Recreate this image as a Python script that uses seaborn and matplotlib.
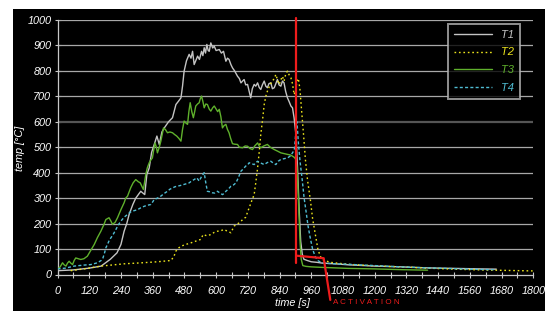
import matplotlib
matplotlib.use("Agg")
import matplotlib.pyplot as plt
from matplotlib.patches import Rectangle
from matplotlib.lines import Line2D
import seaborn as sns
import pandas as pd

# --- data (time [s], temp [°C]) ---
t1_time = [0, 60, 120, 165, 200, 225, 240, 252, 262, 271, 285, 296, 315, 330, 338, 347, 356, 366, 376, 385,
           395, 404, 420, 435, 448, 457, 467, 473, 479, 488, 498, 505, 511, 517, 523, 530, 537, 545, 550, 555,
           560, 565, 570, 574, 580, 587, 593, 600, 612, 620, 628, 637, 643, 649, 656, 662, 670, 681, 688, 694,
           700, 706, 712, 719, 725, 731, 737, 744, 750, 757, 763, 769, 775, 782, 788, 794, 800, 807, 813, 820,
           826, 832, 838, 845, 851, 857, 863, 870, 876, 883, 889, 895, 902, 908, 914, 920, 926, 932, 945, 960,
           980, 1000, 1050, 1100, 1200, 1300, 1400, 1500, 1600, 1660]
t1_temp = [15, 18, 25, 33, 60, 85, 118, 170, 200, 236, 275, 300, 327, 314, 393, 419, 480, 511, 544, 511,
           560, 576, 600, 616, 668, 680, 694, 740, 799, 840, 865, 850, 877, 825, 840, 858, 845, 877, 860, 891,
           870, 904, 880, 877, 910, 890, 897, 880, 884, 870, 877, 838, 850, 845, 825, 812, 800, 779, 770, 753,
           760, 766, 745, 747, 720, 694, 730, 747, 740, 753, 735, 727, 745, 760, 740, 734, 750, 753, 730, 734,
           750, 766, 745, 740, 760, 753, 720, 694, 680, 662, 655, 616, 550, 420, 260, 130, 80, 60, 55, 50,
           48, 45, 42, 38, 33, 30, 26, 24, 22, 21]

t2_time = [50, 100, 164, 252, 320, 378, 429, 440, 448, 458, 467, 485, 504, 520, 542, 551, 565, 580, 592, 605,
           618, 630, 643, 656, 668, 687, 700, 712, 725, 735, 744, 750, 757, 763, 769, 776, 782, 788, 794, 800,
           807, 813, 820, 826, 832, 839, 845, 851, 857, 864, 870, 876, 883, 889, 895, 900, 906, 911, 917, 923,
           930, 938, 946, 957, 965, 975, 985, 993, 1000, 1030, 1100, 1200, 1300, 1400, 1500, 1600, 1700, 1800]
t2_temp = [15, 22, 33, 42, 46, 50, 55, 70, 92, 104, 111, 118, 124, 130, 138, 157, 152, 157, 165, 170,
           172, 177, 170, 164, 190, 203, 215, 225, 262, 290, 314, 360, 419, 480, 550, 610, 668, 700, 720, 735,
           750, 760, 770, 786, 765, 747, 765, 779, 760, 790, 799, 785, 773, 750, 707, 720, 760, 770, 730, 650,
           560, 450, 370, 290, 220, 160, 100, 75, 60, 48, 40, 34, 30, 25, 21, 18, 16, 14]

t3_time = [0, 10, 19, 25, 32, 38, 44, 50, 57, 63, 69, 78, 88, 100, 113, 126, 139, 151, 164, 175,
           183, 195, 202, 208, 218, 227, 240, 252, 258, 265, 271, 277, 286, 296, 305, 313, 320, 325, 334, 340,
           347, 353, 359, 364, 369, 374, 378, 385, 391, 396, 401, 408, 416, 425, 435, 443, 451, 459, 467, 473,
           479, 486, 492, 497, 502, 508, 514, 519, 523, 530, 536, 540, 545, 550, 555, 561, 567, 574, 580, 587,
           593, 600, 606, 612, 618, 624, 630, 637, 643, 649, 655, 662, 670, 681, 688, 700, 710, 719, 728, 738,
           746, 757, 763, 769, 780, 794, 805, 820, 832, 845, 857, 870, 880, 889, 896, 902, 906, 910, 914, 918,
           922, 928, 940, 960, 1000, 1050, 1100, 1200, 1300, 1400]
t3_temp = [20, 30, 46, 38, 33, 45, 52, 45, 39, 55, 65, 62, 59, 62, 72, 95, 118, 145, 170, 195,
           216, 223, 210, 197, 205, 223, 255, 282, 300, 308, 325, 341, 360, 373, 365, 360, 345, 334, 393, 420,
           439, 450, 458, 490, 517, 500, 478, 500, 524, 550, 576, 570, 557, 560, 557, 550, 544, 535, 524, 570,
           603, 595, 590, 640, 675, 640, 616, 640, 662, 670, 675, 690, 701, 680, 655, 670, 668, 650, 642, 655,
           662, 650, 640, 649, 620, 576, 585, 590, 570, 557, 535, 514, 512, 511, 500, 498, 505, 504, 495, 491,
           505, 517, 505, 498, 505, 511, 500, 491, 485, 478, 475, 472, 470, 465, 460, 452, 420, 330, 220, 120,
           60, 35, 32, 30, 28, 26, 24, 22, 19, 17]

t4_time = [0, 30, 63, 100, 126, 151, 165, 172, 178, 183, 190, 196, 202, 212, 221, 230, 240, 252, 265, 275,
           284, 294, 303, 315, 328, 340, 353, 360, 366, 378, 391, 403, 416, 425, 435, 445, 454, 466, 479, 489,
           498, 508, 517, 527, 536, 545, 555, 561, 567, 576, 586, 595, 605, 615, 624, 630, 637, 646, 656, 666,
           675, 684, 694, 703, 712, 719, 725, 735, 744, 750, 757, 769, 782, 794, 807, 816, 826, 835, 845, 857,
           870, 880, 889, 896, 902, 906, 911, 918, 925, 933, 940, 948, 955, 965, 975, 985, 1000, 1050, 1100, 1200,
           1300, 1400, 1500, 1600, 1650]
t4_temp = [22, 25, 33, 37, 39, 46, 55, 65, 85, 105, 120, 135, 144, 160, 177, 195, 210, 225, 236, 245,
           249, 252, 255, 262, 268, 272, 275, 285, 295, 300, 308, 318, 327, 335, 340, 345, 347, 350, 354, 357,
           360, 368, 373, 380, 367, 385, 400, 360, 327, 325, 321, 320, 327, 320, 314, 318, 327, 335, 347, 352,
           360, 380, 406, 415, 426, 430, 439, 435, 432, 440, 445, 438, 432, 440, 445, 438, 432, 445, 452, 455,
           458, 465, 478, 490, 560, 600, 520, 440, 380, 300, 250, 190, 150, 100, 70, 55, 45, 42, 40, 35,
           30, 26, 23, 20, 19]

series_names = ["T1", "T2", "T3", "T4"]
series_colors = ["#c4c4c4", "#ece41c", "#5fb02c", "#4fbcd2"]
series_styles = ["-", (0, (1.2, 2.0)), "-", (0, (2.2, 1.6))]

# activation marker (red)
act_time = [903, 903]
act_temp = [1008, 45]
act_bar_time = [903, 1007, 1032]
act_bar_temp = [74, 64, -100]

frames = [pd.DataFrame({"time": t1_time, "temp": t1_temp}),
          pd.DataFrame({"time": t2_time, "temp": t2_temp}),
          pd.DataFrame({"time": t3_time, "temp": t3_temp}),
          pd.DataFrame({"time": t4_time, "temp": t4_temp})]

sns.set_theme(style="ticks")
plt.rcParams["font.family"] = ["Liberation Sans", "DejaVu Sans"]

fig = plt.figure(figsize=(5.45, 3.11), dpi=100, facecolor="white")
# black panel behind the chart
fig.patches.append(Rectangle((13 / 545, 0), 532 / 545, 302 / 311, transform=fig.transFigure,
                             facecolor="black", edgecolor="none", zorder=-10))
ax = fig.add_axes([57.5 / 545, 36.5 / 311, 475.8 / 545, 254.5 / 311])
ax.set_zorder(2)
ax.set_facecolor("black")

# horizontal grid
for g in range(100, 1001, 100):
    if g == 600:
        ax.axhline(g, color="#555555", lw=1.6, zorder=1)
    else:
        ax.axhline(g, color="#a8a8a8", lw=0.9, zorder=1)

for df, name, col, ls in zip(frames, series_names, series_colors, series_styles):
    sns.lineplot(data=df, x="time", y="temp", ax=ax, color=col, lw=1.0, linestyle=ls, label=name,
                 zorder=3, legend=False)

ax.plot(act_time, act_temp, color="#ee1c1c", lw=1.6, zorder=5, clip_on=False)
ax.plot(act_bar_time, act_bar_temp, color="#ee1c1c", lw=1.6, zorder=5, clip_on=False)

ax.set_xlim(0, 1800)
ax.set_ylim(0, 1000)
ax.set_xticks(range(0, 1801, 120))
ax.set_xticks(range(0, 1801, 60), minor=True)
ax.set_yticks(range(0, 1001, 100))
ax.tick_params(axis="both", which="both", colors="#c8c8c8", direction="inout", length=4, width=0.8)
ax.tick_params(axis="x", pad=6, labelsize=7.8, labelcolor="white")
ax.tick_params(axis="y", pad=2.5, labelsize=7.8, labelcolor="white")
for lab in ax.get_xticklabels() + ax.get_yticklabels():
    lab.set_style("italic")

for s in ["top", "right"]:
    ax.spines[s].set_visible(False)
for s in ["left", "bottom"]:
    ax.spines[s].set_color("#c8c8c8")
    ax.spines[s].set_linewidth(0.9)

ax.set_xlabel("")
ax.set_ylabel("")
fig.text(20 / 545, 1 - 148 / 311, "temp [°C]", rotation=90, ha="center", va="center",
         color="white", fontsize=7.8, style="italic")
fig.text(292 / 545, 1 - 303 / 311, "time [s]", ha="center", va="center",
         color="white", fontsize=7.8, style="italic")
fig.text(333 / 545, 1 - 303 / 311, "A C T I V A T I O N", ha="left", va="center",
         color="#ee1c1c", fontsize=5.8)

handles = [Line2D([0], [0], color=c, lw=1.0, linestyle=ls) for c, ls in zip(series_colors, series_styles)]
leg = ax.legend(handles, series_names, loc="upper right", bbox_to_anchor=(0.972, 0.985),
                frameon=True, fancybox=False, facecolor="black", edgecolor="#b4b4b4",
                fontsize=8, handlelength=3.4, labelspacing=0.68, borderpad=0.55, handletextpad=0.8,
                borderaxespad=0)
leg.get_frame().set_linewidth(1.4)
leg.set_zorder(6)
for txt, c in zip(leg.get_texts(), series_colors):
    txt.set_color(c)
    txt.set_style("italic")

fig.savefig("out.png", dpi=100, facecolor="white")
